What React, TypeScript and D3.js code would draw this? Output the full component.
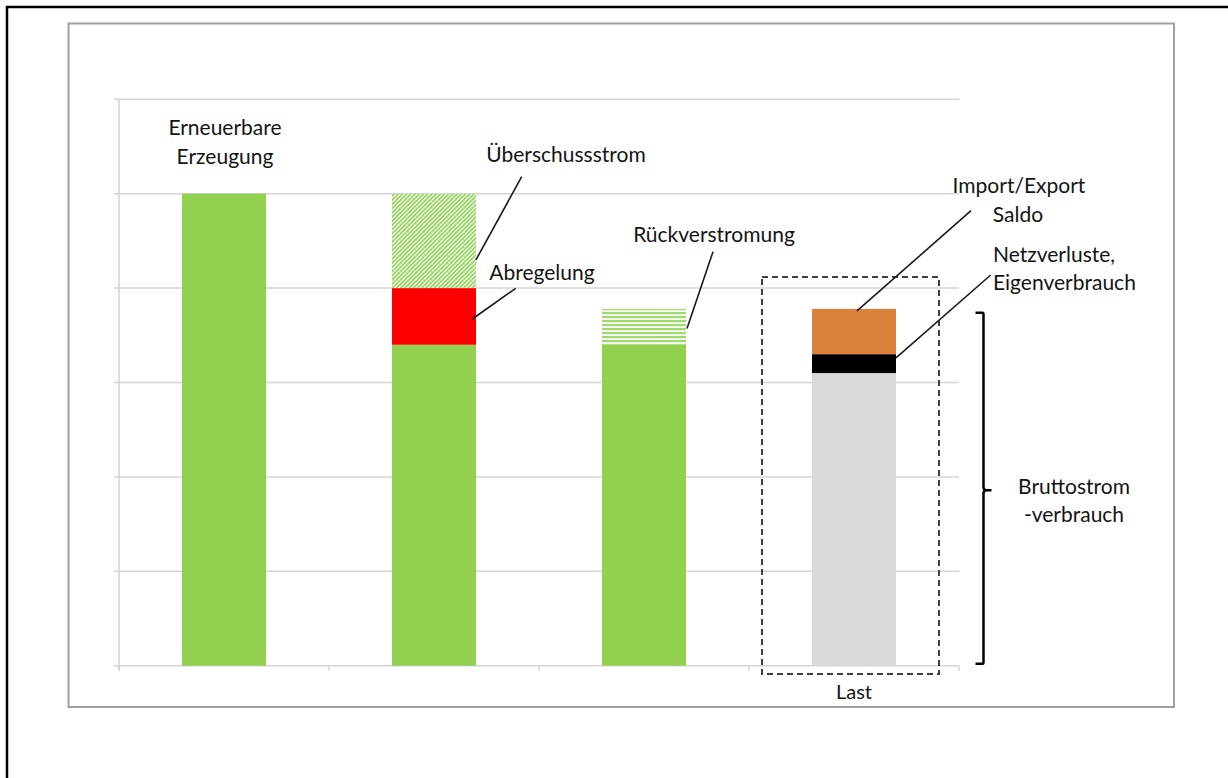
import React from "react";
import * as d3 from "d3";

const categories = ["erzeugung", "ueberschuss", "rueck", "last"];
const axisLabels = ["", "", "", "Last"];
const yTicks = [0, 1, 2, 3, 4, 5, 6];

// series (stack order bottom -> top)
const gruen = [5.0, 3.4, 3.4, 0];
const abregelung = [0, 0.6, 0, 0];
const ueberschuss = [0, 1.0, 0, 0];
const rueckverstromung = [0, 0, 0.38, 0];
const brutto = [0, 0, 0, 3.1];
const netzverluste = [0, 0, 0, 0.2];
const importSaldo = [0, 0, 0, 0.48];

const seriesKeys = ["gruen", "abregelung", "ueberschuss", "rueck", "brutto", "netz", "import"];
const seriesValues: Record<string, number[]> = {
  gruen, abregelung, ueberschuss, rueck: rueckverstromung, brutto, netz: netzverluste, import: importSaldo,
};
const seriesFill: Record<string, string> = {
  gruen: "#92D050",
  abregelung: "#FF0000",
  ueberschuss: "url(#diag)",
  rueck: "url(#horiz)",
  brutto: "#D9D9D9",
  netz: "#000000",
  import: "#DA823C",
};

const FONT = "Lato, 'Open Sans', sans-serif";
const TXT = "#141414";

export default function App() {
  const W = 1228, H = 778;
  const x = d3.scaleBand<string>().domain(categories).range([119, 959]).padding(0);
  const y = d3.scaleLinear().domain([0, 6]).range([665.7, 99.3]);
  const bw = x.bandwidth() * 0.4;
  const bx = (c: string) => (x(c) as number) + (x.bandwidth() - bw) / 2;

  const table = categories.map((c, i) => {
    const o: any = { cat: c };
    seriesKeys.forEach((k) => (o[k] = seriesValues[k][i]));
    return o;
  });
  const stacked = d3.stack<any>().keys(seriesKeys)(table);

  const tickXs = [...categories.map((c) => x(c) as number), 959];
  const top = (k: string, i: number) => y(stacked[seriesKeys.indexOf(k)][i][1]);
  const mid = (k: string, i: number, f = 0.5) => {
    const s = stacked[seriesKeys.indexOf(k)][i];
    return y(s[0] + (s[1] - s[0]) * f);
  };

  const c2r = bx(categories[1]) + bw;
  const c3r = bx(categories[2]) + bw;
  const c4l = bx(categories[3]);
  const c4r = c4l + bw;

  const leaders = [
    { x1: c2r, y1: mid("ueberschuss", 1, 0.3), x2: 521.7, y2: 176.7 },
    { x1: c2r - 4, y1: mid("abregelung", 1, 0.45), x2: 515.7, y2: 288.3 },
    { x1: c3r + 1, y1: mid("rueck", 2, 0.45), x2: 713, y2: 251.7 },
    { x1: c4l + bw / 2 + 3, y1: top("import", 3) + 2, x2: 971, y2: 210.7 },
    { x1: c4r, y1: mid("netz", 3, 0.8), x2: 990.7, y2: 275 },
  ];

  const bTop = y(brutto[3] + netzverluste[3] + importSaldo[3]) + 4;
  const bBot = y(0) - 2;
  const bX = 983.5;
  const bMid = (bTop + bBot) / 2 + 2;

  return (
    <svg width={W} height={H} style={{ position: "absolute", left: 0, top: 0, background: "#fff" }}>
      <defs>
        <pattern id="diag" patternUnits="userSpaceOnUse" width={4.2} height={4.2}>
          <rect width={4.2} height={4.2} fill="#ffffff" />
          <path d="M-1,1 l2,-2 M0,4.2 l4.2,-4.2 M3.2,5.2 l2,-2" stroke="#99D161" strokeWidth={1.9} />
        </pattern>
        <pattern id="horiz" patternUnits="userSpaceOnUse" width={8} height={4} y={y(3.79)}>
          <rect width={8} height={4} fill="#ffffff" />
          <rect width={8} height={2.3} fill="#A2D672" />
        </pattern>
      </defs>

      {/* outer frame (cropped) */}
      <rect x={7} y={7} width={W + 20} height={H + 20} fill="none" stroke="#000" strokeWidth={2.5} />
      {/* chart area frame */}
      <rect x={68.5} y={23.5} width={1105.5} height={683.5} fill="#fff" stroke="#A0A0A0" strokeWidth={2} />

      {/* gridlines */}
      {yTicks.map((t) => (
        <line key={t} x1={114} x2={959} y1={y(t)} y2={y(t)} stroke="#D4D4D4" strokeWidth={1.5} />
      ))}
      {/* y axis */}
      <line x1={119} x2={119} y1={y(6)} y2={y(0) + 5} stroke="#D4D4D4" strokeWidth={1.5} />
      {/* x axis ticks */}
      {tickXs.map((tx, i) => (
        <line key={i} x1={tx} x2={tx} y1={y(0)} y2={y(0) + 5} stroke="#D4D4D4" strokeWidth={1.5} />
      ))}

      {/* bars */}
      {stacked.map((s) =>
        s.map((d, i) =>
          d[1] - d[0] > 0 ? (
            <rect
              key={s.key + i}
              x={bx(categories[i])}
              y={y(d[1])}
              width={bw}
              height={y(d[0]) - y(d[1])}
              fill={seriesFill[s.key]}
            />
          ) : null
        )
      )}

      {/* axis labels */}
      {axisLabels.map((l, i) =>
        l ? (
          <text key={i} x={(x(categories[i]) as number) + x.bandwidth() / 2} y={699} textAnchor="middle"
            fontFamily={FONT} fontSize={20} fill={TXT}>{l}</text>
        ) : null
      )}

      {/* dashed box around Last */}
      <rect x={762} y={277} width={177} height={397} fill="none" stroke="#404040" strokeWidth={2} strokeDasharray="6 4" />

      {/* leader lines */}
      {leaders.map((l, i) => (
        <line key={i} x1={l.x1} y1={l.y1} x2={l.x2} y2={l.y2} stroke="#1a1a1a" strokeWidth={1.6} />
      ))}

      {/* brace */}
      <path
        d={`M${bX - 8},${bTop} L${bX - 1},${bTop} Q${bX},${bTop} ${bX},${bTop + 2} L${bX},${bMid - 3} Q${bX},${bMid} ${bX + 3},${bMid} L${bX + 8},${bMid} M${bX + 3},${bMid} Q${bX},${bMid} ${bX},${bMid + 3} L${bX},${bBot - 2} Q${bX},${bBot} ${bX - 1},${bBot} L${bX - 8},${bBot}`}
        fill="none" stroke="#000" strokeWidth={2.5}
      />

      {/* annotations */}
      <g fontFamily={FONT} fontSize={21} fill={TXT}>
        <text x={225} y={135} textAnchor="middle">Erneuerbare</text>
        <text x={225} y={164} textAnchor="middle">Erzeugung</text>
        <text x={566} y={162} textAnchor="middle">Überschussstrom</text>
        <text x={542} y={280} textAnchor="middle">Abregelung</text>
        <text x={714} y={242} textAnchor="middle">Rückverstromung</text>
        <text x={1019} y={193} textAnchor="middle">Import/Export</text>
        <text x={1018} y={222} textAnchor="middle">Saldo</text>
        <text x={993} y={262}>Netzverluste,</text>
        <text x={993} y={290}>Eigenverbrauch</text>
        <text x={1074} y={494} textAnchor="middle">Bruttostrom</text>
        <text x={1074} y={522} textAnchor="middle">-verbrauch</text>
      </g>
    </svg>
  );
}
